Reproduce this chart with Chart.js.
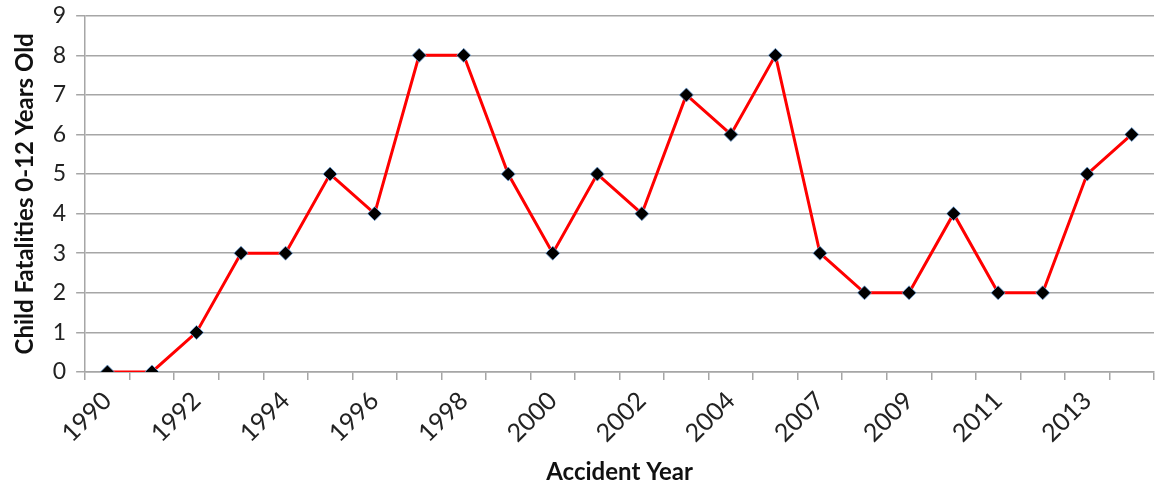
<!DOCTYPE html>
<html>
<head>
<meta charset="utf-8">
<script src="https://cdn.jsdelivr.net/npm/chart.js@4"></script>
<style>
  html, body { margin: 0; padding: 0; background: #ffffff; }
  #wrap { width: 1162px; height: 490px; }
</style>
</head>
<body>
<div id="wrap"><canvas id="fatalChart"></canvas></div>
<script>
// 事故年份（2006 沒有資料）
const years = ['1990', '1991', '1992', '1993', '1994', '1995', '1996', '1997', '1998', '1999',
  '2000', '2001', '2002', '2003', '2004', '2005', '2007', '2008', '2009', '2010',
  '2011', '2012', '2013', '2014'];
// 兒童死亡人數
const fatalities = [0, 0, 1, 3, 3, 5, 4, 8, 8, 5, 3, 5, 4, 7, 6, 8, 3, 2, 2, 4, 2, 2, 5, 6];
const yTicks = [0, 1, 2, 3, 4, 5, 6, 7, 8, 9];

const fontFamily = 'Lato, "Open Sans", sans-serif';

const ctx = document.getElementById('fatalChart').getContext('2d');
const chart = new Chart(ctx, {
  type: 'line',
  data: {
    labels: years,
    datasets: [{
      label: 'Child Fatalities',
      data: fatalities,
      borderColor: '#ff0000',
      borderWidth: 3,
      tension: 0,
      pointStyle: 'rectRot',
      pointRadius: 7,
      pointBackgroundColor: '#000000',
      pointBorderColor: 'rgba(110,160,215,0.8)',
      pointBorderWidth: 1
    }]
  },
  options: {
    responsive: true,
    maintainAspectRatio: false,
    animation: false,
    layout: { padding: { top: 4, right: 0, left: 11, bottom: 3 } },
    plugins: {
      legend: { display: false },
      tooltip: { enabled: false }
    },
    scales: {
      x: {
        offset: true,
        grid: {
          offset: true,
          drawOnChartArea: false,
          tickLength: 8,
          color: '#a6a6a6',
          lineWidth: 1.5
        },
        border: { color: '#a6a6a6', width: 1.5 },
        ticks: {
          autoSkip: false,
          maxRotation: 45,
          minRotation: 45,
          color: '#222222',
          font: { family: fontFamily, size: 25 },
          padding: 6,
          callback: function(value, index) {
            return index % 2 === 0 ? years[index] : '';
          }
        },
        title: {
          display: true,
          text: 'Accident Year',
          color: '#111111',
          font: { family: fontFamily, size: 24, weight: 'bold' },
          padding: { top: 4, bottom: 0 }
        }
      },
      y: {
        min: 0,
        max: 9,
        afterBuildTicks: function(axis) {
          axis.ticks = yTicks.map(v => ({ value: v }));
        },
        grid: {
          color: '#a6a6a6',
          lineWidth: 1.5,
          tickLength: 9
        },
        border: { color: '#a6a6a6', width: 1.5 },
        ticks: {
          color: '#222222',
          font: { family: fontFamily, size: 23, lineHeight: 0.5 },
          padding: 10
        },
        title: {
          display: true,
          text: 'Child Fatalities 0-12 Years Old',
          color: '#111111',
          font: { family: fontFamily, size: 24, weight: 'bold' },
          padding: { top: 0, bottom: 3 }
        }
      }
    }
  }
});
</script>
</body>
</html>
